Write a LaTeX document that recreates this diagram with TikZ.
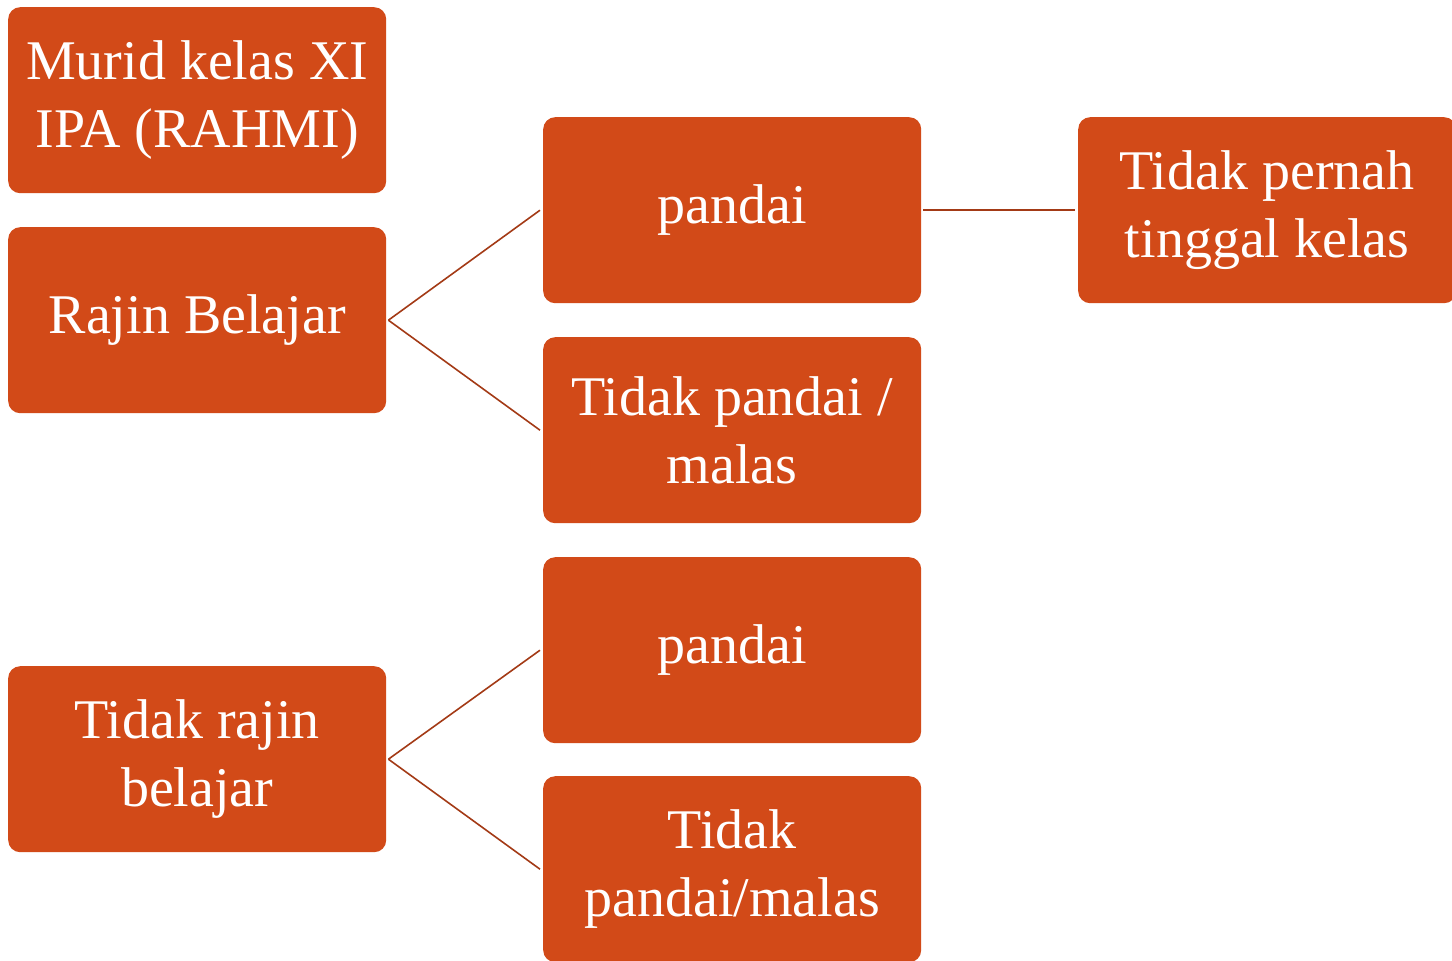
\documentclass[tikz,border=0pt]{standalone}
\usepackage{fontspec}
\setmainfont{Liberation Serif}
\definecolor{boxfill}{HTML}{D24A18}
\definecolor{linecol}{HTML}{A33A16}
\begin{document}
\begin{tikzpicture}[x=1pt,y=-1pt,
  box/.style={draw=none,fill=boxfill,rounded corners=12pt,minimum width=378pt,minimum height=186pt,
    inner sep=0pt,anchor=north west,text=white,align=center,font=\fontsize{56}{68}\selectfont},
  conn/.style={draw=linecol,line width=1.6pt}]
\useasboundingbox (0,0) rectangle (1452,961);
\clip (0,0) rectangle (1452,961);
\node[box] (a) at (8,7) {Murid kelas XI\\IPA (RAHMI)};
\node[box] (b) at (8,227) {Rajin Belajar};
\node[box] (c) at (543,117) {pandai};
\node[box] (d) at (1078,117) {Tidak pernah\\tinggal kelas};
\node[box] (e) at (543,337) {Tidak pandai /\\malas};
\node[box] (f) at (543,557) {pandai};
\node[box] (g) at (8,666) {Tidak rajin\\belajar};
\node[box] (h) at (543,776) {Tidak\\pandai/malas};
\draw[conn] ([xshift=2pt]b.east) -- ([xshift=-3pt]c.west);
\draw[conn] ([xshift=2pt]b.east) -- ([xshift=-3pt]e.west);
\draw[conn] ([xshift=2pt]c.east) -- ([xshift=-3pt]d.west);
\draw[conn] ([xshift=2pt]g.east) -- ([xshift=-3pt]f.west);
\draw[conn] ([xshift=2pt]g.east) -- ([xshift=-3pt]h.west);
\end{tikzpicture}
\end{document}
